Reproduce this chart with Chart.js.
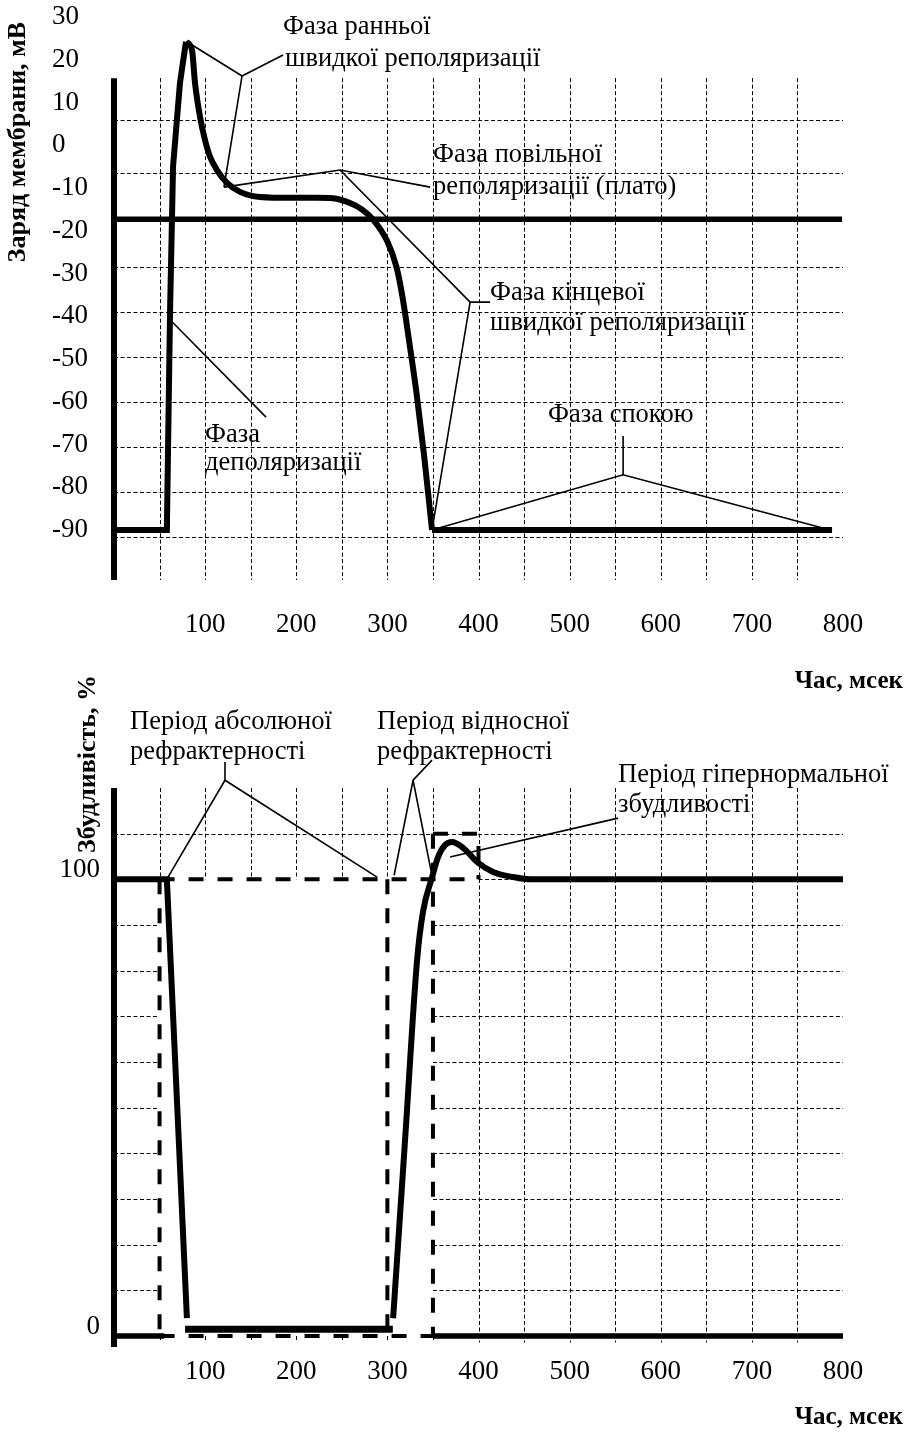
<!DOCTYPE html>
<html><head><meta charset="utf-8">
<script src="https://cdn.jsdelivr.net/npm/chart.js@4.4.1/dist/chart.umd.min.js"></script>
<style>
html,body{margin:0;padding:0;background:#fff;}
#w1{position:absolute;left:0;top:0;width:912px;height:700px;}
#w2{position:absolute;left:0;top:650px;width:912px;height:794px;}
</style></head><body>
<div id="w1"><canvas id="c1"></canvas></div>
<div id="w2"><canvas id="c2"></canvas></div>
<script>
// ===================== DATA =====================
const timeTicks = [100,200,300,400,500,600,700,800];
const timeGrid = [50,100,150,200,250,300,350,400,450,500,550,600,650,700,750];

// --- top chart: membrane potential (mV) ---
const apTicks = [30,20,10,0,-10,-20,-30,-40,-50,-60,-70,-80,-90];
const apGridLevels = [5.9,-6.5,-28.5,-39,-49.5,-60.1,-70.6,-81.1,-91.6];
const apUpTime  = [0,58,61.5,64.8,72.4,79];
const apUpValue = [-90,-90,-39,-5,14.6,24.2];
const apRepolTime  = [79,85.6,88.9,94.4,99.9,105.4,113,124,138.3,160,196.5,222.8,240,259,272,284,300,310,317,324,332,340,349];
const apRepolValue = [24.2,22.3,14.6,6.6,1.2,-2.7,-5.8,-8.8,-10.9,-12.1,-12.3,-12.3,-12.4,-13.5,-15,-17.3,-22.5,-28.5,-36,-46,-58,-72,-90];
const apRestTime  = [349,788];
const apRestValue = [-90,-90];
const thresholdTime  = [0,799];
const thresholdValue = [-17.3,-17.3];
const leadEarlyTime    = [80,140.5,185.5,null,140.5,120.7];
const leadEarlyValue   = [24.2,16.2,21.1,null,16.2,-9.8];
const leadPlateauTime  = [120.7,248.1,346.9];
const leadPlateauValue = [-9.8,-5.8,-9.8];
const leadFinalTime    = [248.1,390.8,412.7,null,390.8,349];
const leadFinalValue   = [-5.8,-36.7,-36.7,null,-36.7,-90];
const leadDepolTime    = [63.7,166.8];
const leadDepolValue   = [-41.3,-63.6];
const leadRestTime     = [558.7,558.7,null,349,558.7,786];
const leadRestValue    = [-68,-77.1,null,-90,-77.1,-90];
const apLabelText  = ["Фаза ранньої","швидкої реполяризації","Фаза повільної","реполяризації (плато)","Фаза кінцевої","швидкої реполяризації","Фаза","деполяризації","Фаза спокою"];
const apLabelTime  = [185.5,187.7,350.2,350.2,412.7,412.7,99.9,99.9,476.4];
const apLabelValue = [27.7,20.2,-2.3,-9.8,-34.6,-41.6,-67.8,-74.3,-63.1];

// --- bottom chart: excitability (%) ---
const exTicks = [0,100];
const exGridLevels = [10,20,30,40,50,60,70,80,90];
const exUpTime  = [0,58,80];
const exUpValue = [100,100,3.9];
const exFloorTime  = [78,306];
const exFloorValue = [1.5,1.5];
const exRecTime  = [306.3,319.4,332.6,339.2,349.1,355.7,363.3,371,383.1,398.5,416,438,456.6,800];
const exRecValue = [3.9,42.9,82.3,93,100.5,104.9,107.5,108.2,106.9,103.8,101.6,100.5,100,100];
const boxTime  = [50,400,null,50,50,null,300,300,null,350,350,null,50,350,null,350,400,400];
const boxValue = [100,100,null,100,0,null,100,0,null,110,0,null,0,0,null,110,110,100];
const exAxisTime  = [0,55,null,350,800];
const exAxisValue = [0,0,null,0,0];
const leadAbsTime    = [121.8,121.8,null,59.3,121.8,288.7];
const leadAbsValue   = [125.7,121.7,null,100.5,121.7,100.5];
const leadRelTime    = [349,328.2,307.4,null,328.2,348];
const leadRelValue   = [126.1,121.7,100.9,null,121.7,101.8];
const leadSuperTime  = [368.8,553.2];
const leadSuperValue = [104.9,113.4];
const exLabelText  = ["Період абсолюної","рефрактерності","Період відносної","рефрактерності","Період гіпернормальної","збудливості"];
const exLabelTime  = [17.6,17.6,288.7,288.7,553.2,553.2];
const exLabelValue = [134.4,127.9,134.4,127.9,122.8,116.3];

// ===================== HELPERS =====================
const SERIF = "'Liberation Serif','Times New Roman',Times,serif";
const TICK_SIZE = 27, NOTE_SIZE = 26.5;
function pts(xs, ys){
  return xs.map((x,i)=> x===null ? {x: xs[i-1], y: null} : {x: x, y: ys[i]});
}
function lineDs(xs, ys, w, opts){
  return Object.assign({data: pts(xs,ys), borderColor:'#000', borderWidth:w, pointRadius:0,
    fill:false, tension:0, spanGaps:false, clip:false, borderCapStyle:'butt'}, opts||{});
}
function seg(ctx, x1,y1,x2,y2){ ctx.beginPath(); ctx.moveTo(x1,y1); ctx.lineTo(x2,y2); ctx.stroke(); }

function baseOptions(yMin, yMax, yTicks, yTickOpts, xPad, yWidth, xHeight, layoutPad){
  return {
    responsive:true, maintainAspectRatio:false, animation:false,
    layout:{padding:layoutPad},
    plugins:{legend:{display:false}, tooltip:{enabled:false}},
    scales:{
      x:{type:'linear', min:0, max:800,
        afterBuildTicks:s=>{ s.ticks = timeTicks.map(v=>({value:v})); },
        afterFit:s=>{ s.height = xHeight; },
        grid:{display:false, drawTicks:false}, border:{display:false},
        ticks:{color:'#000', font:{family:SERIF, size:TICK_SIZE}, padding:xPad, maxRotation:0, autoSkip:false, callback:v=>String(v)}},
      y:{type:'linear', min:yMin, max:yMax,
        afterBuildTicks:s=>{ s.ticks = yTicks.map(v=>({value:v})); },
        afterFit:s=>{ s.width = yWidth; },
        grid:{display:false, drawTicks:false}, border:{display:false},
        ticks:Object.assign({color:'#000', font:{family:SERIF, size:TICK_SIZE}, autoSkip:false, callback:v=>String(v)}, yTickOpts)}
    }
  };
}

// ===================== TOP CHART =====================
const apDeco = {
  id:'apDeco',
  beforeDatasetsDraw(chart){
    const ctx = chart.ctx, xs = chart.scales.x, ys = chart.scales.y;
    ctx.save();
    ctx.strokeStyle = '#000'; ctx.lineWidth = 1; ctx.setLineDash([4,2.5]);
    const gridTop = 15.7, gridBottom = -101.7;
    for (const v of apGridLevels){
      const y = Math.round(ys.getPixelForValue(v))+0.5;
      seg(ctx, xs.getPixelForValue(0), y, xs.getPixelForValue(800), y);
    }
    for (const t of timeGrid){
      const x = Math.round(xs.getPixelForValue(t))+0.5;
      seg(ctx, x, ys.getPixelForValue(gridTop), x, ys.getPixelForValue(gridBottom));
    }
    ctx.setLineDash([]); ctx.lineWidth = 6;
    const ax = xs.getPixelForValue(0);
    seg(ctx, ax, ys.getPixelForValue(gridTop), ax, ys.getPixelForValue(gridBottom));
    ctx.restore();
  },
  afterDatasetsDraw(chart){
    const ctx = chart.ctx, xs = chart.scales.x, ys = chart.scales.y;
    ctx.save();
    ctx.fillStyle = '#000';
    ctx.font = NOTE_SIZE + 'px ' + SERIF; ctx.textAlign = 'left'; ctx.textBaseline = 'middle';
    apLabelText.forEach((s,i)=>{
      ctx.fillText(s, xs.getPixelForValue(apLabelTime[i]), ys.getPixelForValue(apLabelValue[i]));
    });
    ctx.font = 'bold 25px ' + SERIF;
    ctx.textAlign = 'right';
    ctx.fillText('Час, мсек', 903, 682);
    ctx.font = 'bold 26px ' + SERIF;
    ctx.translate(18, 142); ctx.rotate(-Math.PI/2);
    ctx.textAlign = 'center';
    ctx.fillText('Заряд мембрани, мВ', 0, 0);
    ctx.restore();
  }
};

new Chart(document.getElementById('c1'), {
  type:'line',
  data:{datasets:[
    lineDs(thresholdTime, thresholdValue, 5.5),
    lineDs(apUpTime, apUpValue, 6),
    lineDs(apRepolTime, apRepolValue, 6, {cubicInterpolationMode:'monotone'}),
    lineDs(apRestTime, apRestValue, 6),
    lineDs(leadEarlyTime, leadEarlyValue, 1.6),
    lineDs(leadPlateauTime, leadPlateauValue, 1.6),
    lineDs(leadFinalTime, leadFinalValue, 1.6),
    lineDs(leadDepolTime, leadDepolValue, 1.6),
    lineDs(leadRestTime, leadRestValue, 1.6)
  ]},
  options: baseOptions(-101.7, 30, apTicks, {crossAlign:'far', padding:0}, 29, 62, 120, {left:52, right:69, top:17, bottom:0}),
  plugins:[apDeco]
});

// ===================== BOTTOM CHART =====================
const exDeco = {
  id:'exDeco',
  beforeDatasetsDraw(chart){
    const ctx = chart.ctx, xs = chart.scales.x, ys = chart.scales.y;
    ctx.save();
    ctx.strokeStyle = '#000'; ctx.lineWidth = 1; ctx.setLineDash([4,2.5]);
    const X = t => xs.getPixelForValue(t), Y = v => Math.round(ys.getPixelForValue(v))+0.5;
    const absStart = 50, relEnd = 350, superEnd = 400, top = 120, superTop = 110, tickBottom = -1.4;
    for (const v of exGridLevels){
      seg(ctx, X(0), Y(v), X(absStart), Y(v));
      seg(ctx, X(relEnd), Y(v), X(800), Y(v));
    }
    seg(ctx, X(0), Y(superTop), X(800), Y(superTop));
    seg(ctx, X(superEnd), Y(100), X(800), Y(100));
    for (const t of timeGrid){
      const x = Math.round(X(t))+0.5;
      if (t < relEnd){
        seg(ctx, x, ys.getPixelForValue(top), x, ys.getPixelForValue(100));
        seg(ctx, x, ys.getPixelForValue(0), x, ys.getPixelForValue(tickBottom));
      } else if (t === relEnd){
        seg(ctx, x, ys.getPixelForValue(top), x, ys.getPixelForValue(superTop));
        seg(ctx, x, ys.getPixelForValue(0), x, ys.getPixelForValue(tickBottom));
      } else {
        seg(ctx, x, ys.getPixelForValue(top), x, ys.getPixelForValue(tickBottom));
      }
    }
    ctx.setLineDash([]); ctx.lineWidth = 6;
    const ax = X(0);
    seg(ctx, ax, ys.getPixelForValue(top), ax, ys.getPixelForValue(-2.4));
    ctx.restore();
  },
  afterDatasetsDraw(chart){
    const ctx = chart.ctx, xs = chart.scales.x, ys = chart.scales.y;
    ctx.save();
    ctx.fillStyle = '#000';
    ctx.font = NOTE_SIZE + 'px ' + SERIF; ctx.textAlign = 'left'; ctx.textBaseline = 'middle';
    exLabelText.forEach((s,i)=>{
      ctx.fillText(s, xs.getPixelForValue(exLabelTime[i]), ys.getPixelForValue(exLabelValue[i]));
    });
    ctx.font = 'bold 25px ' + SERIF;
    ctx.textAlign = 'right';
    ctx.fillText('Час, мсек', 903, 768);
    ctx.font = 'bold 26px ' + SERIF;
    ctx.translate(88, 114); ctx.rotate(-Math.PI/2);
    ctx.textAlign = 'center';
    ctx.fillText('Збудливість, %', 0, 0);
    ctx.restore();
  }
};

new Chart(document.getElementById('c2'), {
  type:'line',
  data:{datasets:[
    lineDs(exAxisTime, exAxisValue, 5.5),
    lineDs(boxTime, boxValue, 4, {borderDash:[15,14]}),
    lineDs(exUpTime, exUpValue, 6),
    lineDs(exFloorTime, exFloorValue, 7),
    lineDs(exRecTime, exRecValue, 6, {cubicInterpolationMode:'monotone'}),
    lineDs(leadAbsTime, leadAbsValue, 1.6),
    lineDs(leadRelTime, leadRelValue, 1.6),
    lineDs(leadSuperTime, leadSuperValue, 1.6)
  ]},
  options: baseOptions(0, 120, exTicks, {crossAlign:'near', padding:14, labelOffset:-9}, 20, 74, 108, {left:40, right:69, top:138, bottom:0}),
  plugins:[exDeco]
});
</script>
</body></html>
